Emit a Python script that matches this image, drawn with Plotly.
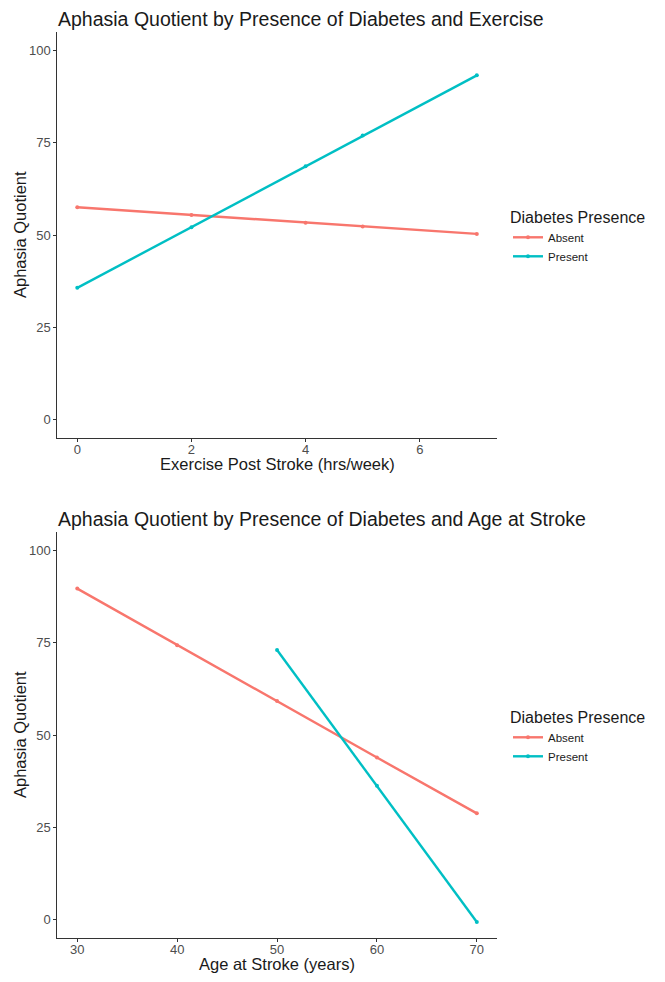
import plotly.graph_objects as go

# ---- data ----
exercise_hours = [0, 2, 4, 5, 7]
aq_ex_absent = [57.5, 55.4, 53.3, 52.3, 50.3]
aq_ex_present = [35.7, 52.1, 68.6, 76.9, 93.2]

age_absent = [30, 40, 50, 60, 70]
aq_age_absent = [89.6, 74.3, 59.2, 43.9, 28.8]
age_present = [50, 60, 70]
aq_age_present = [73.0, 36.3, -0.6]

group_names = ["Absent", "Present"]
colors = ["#F8766D", "#00BFC4"]

W, H = 665, 982

fig = go.Figure()

def add(x, y, name, color, xa, ya, legend):
    fig.add_trace(go.Scatter(
        x=x, y=y, name=name, mode="lines+markers",
        line=dict(color=color, width=2.4),
        marker=dict(color=color, size=4),
        xaxis=xa, yaxis=ya, legend=legend, showlegend=True))

add(exercise_hours, aq_ex_absent, group_names[0], colors[0], "x", "y", "legend")
add(exercise_hours, aq_ex_present, group_names[1], colors[1], "x", "y", "legend")
add(age_absent, aq_age_absent, group_names[0], colors[0], "x2", "y2", "legend2")
add(age_present, aq_age_present, group_names[1], colors[1], "x2", "y2", "legend2")

px = lambda v: v / W
py = lambda v: 1 - v / H

axis_common = dict(
    showline=True, linecolor="#333333", linewidth=1,
    ticks="outside", ticklen=3, tickcolor="#333333", tickwidth=1,
    showgrid=False, zeroline=False,
    tickfont=dict(family="Liberation Sans, Arial, sans-serif", size=13, color="#4d4d4d"),
)
xaxis_extra = dict(ticklabelstandoff=-4)

top = (31.7, 438.3)
bot = (531.7, 938.3)
xl, xr = 57.3, 496.8

legend_common = dict(
    xanchor="left", yanchor="top",
    title=dict(text="Diabetes Presence", font=dict(size=16, color="#1a1a1a")),
    font=dict(size=11.5, color="#1a1a1a"), bgcolor="rgba(0,0,0,0)",
    itemwidth=30, tracegroupgap=0,
)

fig.update_layout(
    width=W, height=H,
    margin=dict(l=0, r=0, t=0, b=0),
    paper_bgcolor="white", plot_bgcolor="white",
    font=dict(family="Liberation Sans, Arial, sans-serif", color="#1a1a1a"),
    xaxis=dict(domain=[px(xl), px(xr)], range=[-0.35, 7.35], tickvals=[0, 2, 4, 6],
               anchor="y", **axis_common, **xaxis_extra),
    yaxis=dict(domain=[py(top[1]), py(top[0])], range=[-5, 105], tickvals=[0, 25, 50, 75, 100],
               anchor="x", **axis_common),
    xaxis2=dict(domain=[px(xl), px(xr)], range=[28, 72], tickvals=[30, 40, 50, 60, 70],
                anchor="y2", **axis_common, **xaxis_extra),
    yaxis2=dict(domain=[py(bot[1]), py(bot[0])], range=[-5, 105], tickvals=[0, 25, 50, 75, 100],
                anchor="x2", **axis_common),
    legend=dict(x=px(508), y=py(202), **legend_common),
    legend2=dict(x=px(508), y=py(702), **legend_common),
)

titles = [
    ("Aphasia Quotient by Presence of Diabetes and Exercise", 18.5, "Exercise Post Stroke (hrs/week)", top),
    ("Aphasia Quotient by Presence of Diabetes and Age at Stroke", 518.5, "Age at Stroke (years)", bot),
]
for title, ty, xtitle, (t0, t1) in titles:
    fig.add_annotation(text=title, xref="paper", yref="paper", x=px(xl - 1), y=py(ty),
                       xanchor="left", yanchor="middle", showarrow=False,
                       font=dict(size=19.5, color="#1a1a1a"))
    fig.add_annotation(text=xtitle, xref="paper", yref="paper", x=px((xl + xr) / 2), y=py(t1 + 26),
                       xanchor="center", yanchor="middle", showarrow=False,
                       font=dict(size=16.5, color="#1a1a1a"))
    fig.add_annotation(text="Aphasia Quotient", xref="paper", yref="paper", x=px(20), y=py((t0 + t1) / 2),
                       xanchor="center", yanchor="middle", showarrow=False, textangle=-90,
                       font=dict(size=16.5, color="#1a1a1a"))

fig.write_html("out.html")
